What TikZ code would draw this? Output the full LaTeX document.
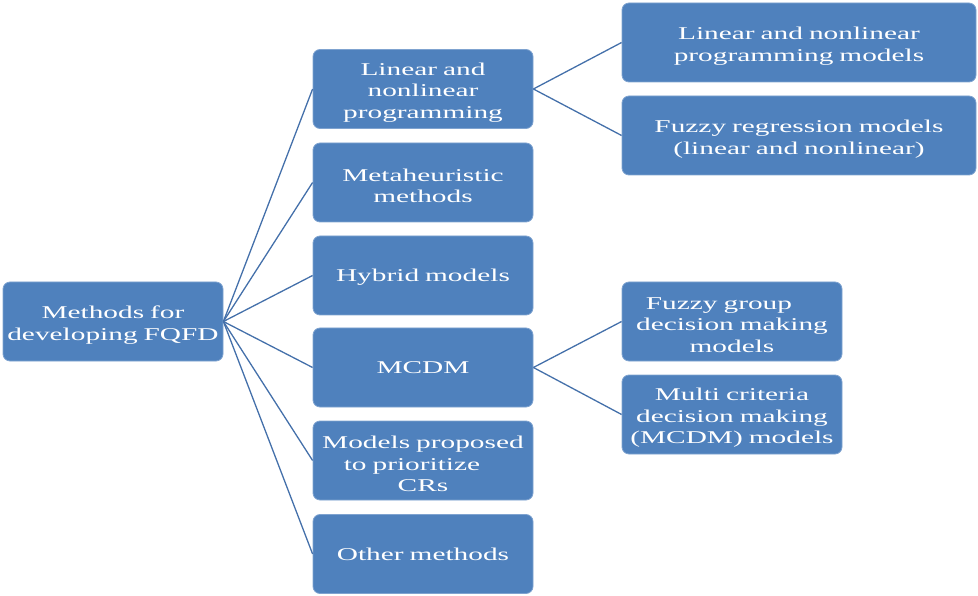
\documentclass[tikz,border=0pt]{standalone}
\usepackage{fontspec}
\setmainfont[FakeStretch=1.63]{Liberation Serif}
\definecolor{boxblue}{HTML}{4F81BD}
\definecolor{boxedge}{HTML}{7FA3D0}
\definecolor{linkblue}{HTML}{4470AA}
\newcommand{\padright}[1]{\rule{#1}{0pt}}
\tikzset{
  box/.style={draw=boxedge, line width=0.8pt, fill=boxblue, rounded corners=7pt,
    text=white, align=center, inner sep=2pt,
    font=\fontsize{18}{21.5}\selectfont,
    % lower the text block a little inside its box
    execute at end node={\par\vspace*{-7pt}}},
  narrow/.style={box, minimum width=220pt, minimum height=79pt, text width=214pt},
  wide/.style={box, minimum width=354pt, minimum height=79pt, text width=348pt},
  link/.style={draw=linkblue, line width=1.3pt}
}
\begin{document}
\begin{tikzpicture}[x=1pt, y=-1pt]
\useasboundingbox (0,0) rectangle (978,596);

% root
\node[narrow] (root) at (113,321.5) {Methods for\\developing FQFD};

% first level
\node[narrow] (m1) at (423,89)    {Linear and\\nonlinear\\programming};
\node[narrow] (m2) at (423,182.5) {Metaheuristic\\methods};
\node[narrow] (m3) at (423,275.5) {Hybrid models};
\node[narrow] (m4) at (423,367.5) {MCDM};
\node[narrow] (m5) at (423,460.5) {Models proposed\\to prioritize\padright{22pt}\\CRs};
\node[narrow] (m6) at (423,554)   {Other methods};

% second level
\node[wide]   (r1) at (799,42.5)  {Linear and nonlinear\\programming models};
\node[wide]   (r2) at (799,135.5) {Fuzzy regression models\\(linear and nonlinear)};
\node[narrow] (r3) at (732,321.5) {Fuzzy group\padright{26pt}\\decision making\\models};
\node[narrow] (r4) at (732,414.5) {Multi criteria\\decision making\\(MCDM) models};

% connectors
\foreach \m in {m1,m2,m3,m4,m5,m6}
  \draw[link] (root.east) -- (\m.west);
\draw[link] (m1.east) -- (r1.west);
\draw[link] (m1.east) -- (r2.west);
\draw[link] (m4.east) -- (r3.west);
\draw[link] (m4.east) -- (r4.west);
\end{tikzpicture}
\end{document}
